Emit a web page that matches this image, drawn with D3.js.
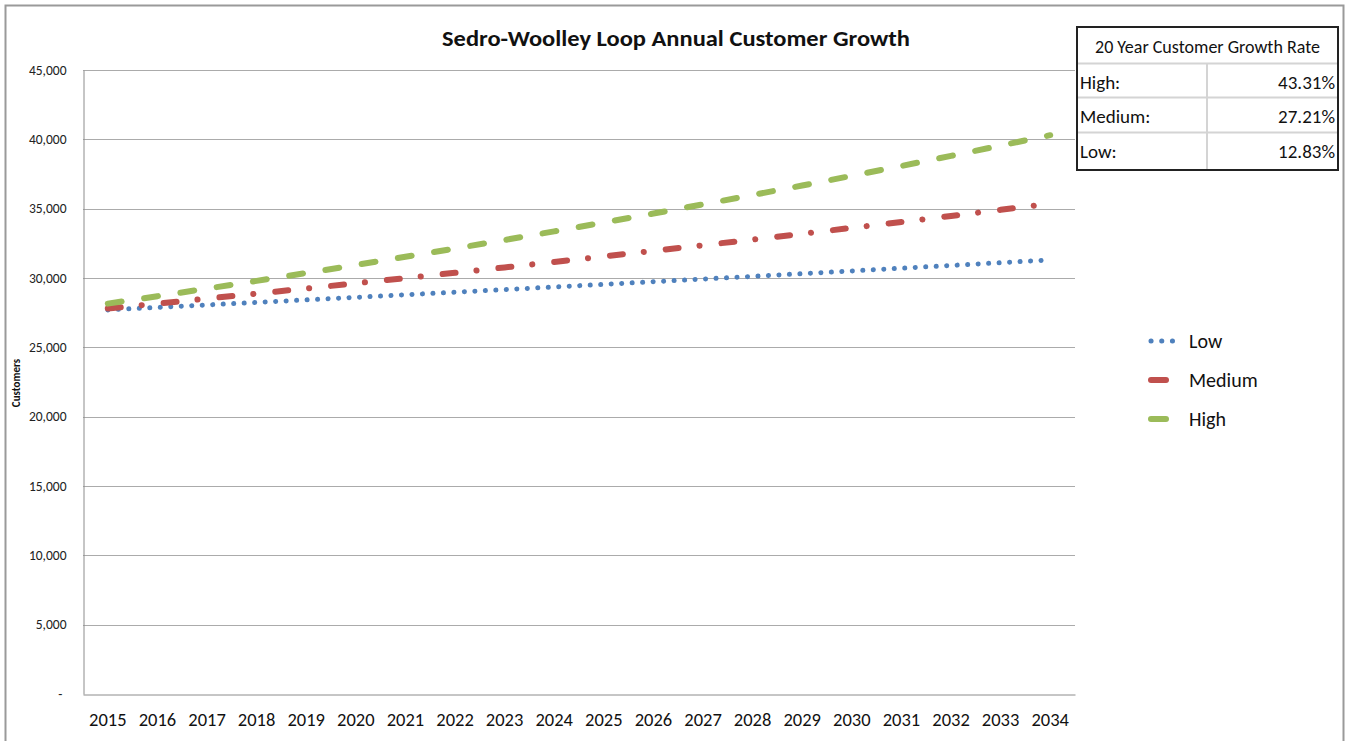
<!DOCTYPE html>
<html>
<head>
<meta charset="utf-8">
<script src="https://cdn.jsdelivr.net/npm/d3@7"></script>
<style>
  body { margin: 0; background: #fff; }
  svg { display: block; font-family: Carlito, Lato, "Open Sans", sans-serif; }
</style>
</head>
<body>
<div id="chart"></div>
<script>
var years = ["2015", "2016", "2017", "2018", "2019", "2020", "2021", "2022", "2023", "2024",
  "2025", "2026", "2027", "2028", "2029", "2030", "2031", "2032", "2033", "2034"];
var low = [27700, 27879, 28059, 28240, 28423, 28606, 28791, 28977, 29164, 29352,
  29542, 29733, 29925, 30118, 30313, 30509, 30706, 30904, 31104, 31305];
var medium = [27800, 28154, 28513, 28876, 29244, 29617, 29994, 30376, 30763, 31155,
  31552, 31954, 32361, 32773, 33191, 33614, 34042, 34476, 34915, 35360];
var high = [28150, 28687, 29234, 29791, 30359, 30938, 31528, 32129, 32741, 33365,
  34001, 34649, 35310, 35983, 36669, 37368, 38080, 38806, 39546, 40300];
var yTicks = [0, 5000, 10000, 15000, 20000, 25000, 30000, 35000, 40000, 45000];
var rateLabels = ["High:", "Medium:", "Low:"];
var rateValues = ["43.31%", "27.21%", "12.83%"];

var series = [
  {name: "Low", vals: low, color: "#4F81BD", dash: "0.1 10.4"},
  {name: "Medium", vals: medium, color: "#C0504D", dash: "13 21 0.1 22"},
  {name: "High", vals: high, color: "#9BBB59", dash: "14 22.7"}
];

var W = 1348, H = 741;
var svg = d3.select("#chart").append("svg").attr("width", W).attr("height", H);

// outer chart frame
svg.append("path")
  .attr("d", "M5.5,741 V5.5 H1343.5 V741")
  .attr("fill", "none").attr("stroke", "#9a9a9a").attr("stroke-width", 2);

var x = d3.scaleBand().domain(years).range([83, 1075]).padding(0);
var y = d3.scaleLinear().domain([0, 45000]).range([694, 70]);

// gridlines
svg.append("g").selectAll("line").data(yTicks.slice(1)).enter().append("line")
  .attr("x1", 83).attr("x2", 1075)
  .attr("y1", function(d) { return Math.round(y(d)) + 0.5; })
  .attr("y2", function(d) { return Math.round(y(d)) + 0.5; })
  .attr("stroke", "#ababab").attr("stroke-width", 1);

// y axis
var yAxis = d3.axisLeft(y).tickValues(yTicks).tickSize(0).tickPadding(17)
  .tickFormat(function(d) { return d === 0 ? "-" : d3.format(",")(d); });
var gy = svg.append("g").attr("transform", "translate(83.5,0)").call(yAxis)
  .attr("font-family", null).attr("font-size", null);
gy.select(".domain").attr("stroke", "#8c8c8c");
gy.selectAll("text").style("font-size", "13.5px").attr("fill", "#222");
gy.selectAll(".tick").filter(function(d) { return d === 0; }).select("text").attr("dx", -4);

// x axis
var xAxis = d3.axisBottom(x).tickSize(0).tickPadding(18);
var gx = svg.append("g").attr("transform", "translate(0,694.5)").call(xAxis)
  .attr("font-family", null).attr("font-size", null);
gx.select(".domain").attr("stroke", "#8c8c8c");
gx.selectAll("text").style("font-size", "18.5px").attr("fill", "#111");

// lines
var line = d3.line()
  .x(function(d, i) { return x(years[i]) + x.bandwidth() / 2; })
  .y(function(d) { return y(d); });

svg.append("g").selectAll("path").data(series).enter().append("path")
  .attr("d", function(d) { return line(d.vals); })
  .attr("fill", "none")
  .attr("stroke", function(d) { return d.color; })
  .attr("stroke-width", function(d) { return d.name == "Low" ? 5 : 6; })
  .attr("stroke-linecap", "round")
  .attr("stroke-dasharray", function(d) { return d.dash; });

// title
svg.append("text").attr("x", 676).attr("y", 46).attr("text-anchor", "middle")
  .style("font-size", "23px").style("font-weight", "bold").attr("fill", "#111")
  .attr("textLength", 468).attr("lengthAdjust", "spacingAndGlyphs")
  .text("Sedro-Woolley Loop Annual Customer Growth");

// y title
svg.append("text").attr("transform", "translate(20,383) rotate(-90)")
  .attr("text-anchor", "middle").style("font-size", "11px").style("font-weight", "bold")
  .attr("fill", "#111").text("Customers");

// legend
var legY = [341, 380, 419];
var leg = svg.append("g").selectAll("g").data(series).enter().append("g")
  .attr("transform", function(d, i) { return "translate(0," + legY[i] + ")"; });
leg.append("line")
  .attr("x1", 1151)
  .attr("x2", function(d) { return d.name == "Low" ? 1183 : 1166; })
  .attr("y1", 0).attr("y2", 0)
  .attr("stroke", function(d) { return d.color; })
  .attr("stroke-width", function(d) { return d.name == "Low" ? 5 : 6; })
  .attr("stroke-linecap", "round")
  .attr("stroke-dasharray", function(d) { return d.name == "Low" ? "0.1 10.6" : null; });
leg.append("text").attr("x", 1189).attr("y", 7)
  .style("font-size", "20px").attr("fill", "#111")
  .text(function(d) { return d.name; });

// growth rate table
var tx0 = 1077, tx1 = 1338, tcol = 1207;
var rowY = [27, 63, 97, 132, 170];
var tbl = svg.append("g");
tbl.append("rect").attr("x", tx0).attr("y", rowY[0]).attr("width", tx1 - tx0).attr("height", rowY[4] - rowY[0])
  .attr("fill", "#fff").attr("stroke", "#222").attr("stroke-width", 2);
tbl.selectAll("line.h").data(rowY.slice(1, 4)).enter().append("line")
  .attr("x1", tx0 + 1).attr("x2", tx1 - 1)
  .attr("y1", function(d) { return d + 0.5; }).attr("y2", function(d) { return d + 0.5; })
  .attr("stroke", "#d4d4d4").attr("stroke-width", 2);
tbl.append("line").attr("x1", tcol).attr("x2", tcol).attr("y1", rowY[1]).attr("y2", rowY[4] - 1)
  .attr("stroke", "#d4d4d4").attr("stroke-width", 2);
tbl.append("text").attr("x", (tx0 + tx1) / 2).attr("y", rowY[0] + 26).attr("text-anchor", "middle")
  .style("font-size", "18px").attr("fill", "#111")
  .text("20 Year Customer Growth Rate");
tbl.selectAll("text.lab").data(rateLabels).enter().append("text")
  .attr("x", tx0 + 3).attr("y", function(d, i) { return rowY[i + 1] + 26; })
  .style("font-size", "19px").attr("fill", "#111")
  .text(function(d) { return d; });
tbl.selectAll("text.val").data(rateValues).enter().append("text")
  .attr("x", tx1 - 3).attr("y", function(d, i) { return rowY[i + 1] + 26; })
  .attr("text-anchor", "end").style("font-size", "19px").attr("fill", "#111")
  .text(function(d) { return d; });
</script>
</body>
</html>
